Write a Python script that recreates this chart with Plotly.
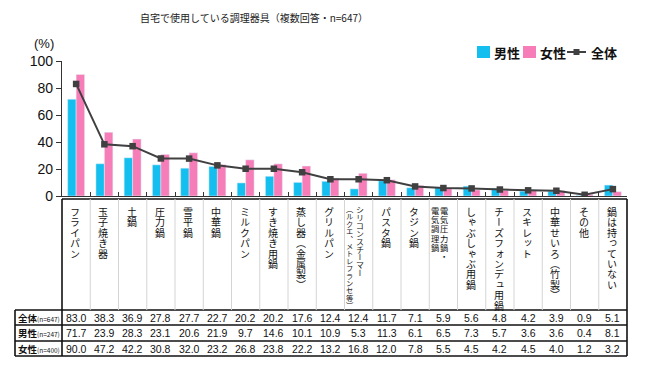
import plotly.graph_objects as go

# ---------------- data ----------------
categories = [
    "フライパン", "玉子焼き器", "土鍋", "圧力鍋", "雪平鍋", "中華鍋", "ミルクパン",
    "すき焼き用鍋", "蒸し器（金属製）", "グリルパン",
    "シリコンスチーマー（ルクエ、メトレフランセ等）", "パスタ鍋", "タジン鍋",
    "電気圧力鍋・電気調理鍋", "しゃぶしゃぶ用鍋", "チーズフォンデュ用鍋", "スキレット",
    "中華せいろ（竹製）", "その他", "鍋は持っていない",
]
# vertical label columns (first = right-most column)
label_columns = [
    ["フライパン"], ["玉子焼き器"], ["土鍋"], ["圧力鍋"], ["雪平鍋"], ["中華鍋"],
    ["ミルクパン"], ["すき焼き用鍋"], ["蒸し器（金属製）"], ["グリルパン"],
    ["シリコンスチーマー", "（ルクエ、メトレフランセ等）"], ["パスタ鍋"], ["タジン鍋"],
    ["電気圧力鍋・", "電気調理鍋"], ["しゃぶしゃぶ用鍋"], ["チーズフォンデュ用鍋"],
    ["スキレット"], ["中華せいろ（竹製）"], ["その他"], ["鍋は持っていない"],
]
total = [83.0, 38.3, 36.9, 27.8, 27.7, 22.7, 20.2, 20.2, 17.6, 12.4,
         12.4, 11.7, 7.1, 5.9, 5.6, 4.8, 4.2, 3.9, 0.9, 5.1]
male = [71.7, 23.9, 28.3, 23.1, 20.6, 21.9, 9.7, 14.6, 10.1, 10.9,
        5.3, 11.3, 6.1, 6.5, 7.3, 5.7, 3.6, 3.6, 0.4, 8.1]
female = [90.0, 47.2, 42.2, 30.8, 32.0, 23.2, 26.8, 23.8, 22.2, 13.2,
          16.8, 12.0, 7.8, 5.5, 4.5, 4.2, 4.5, 4.0, 1.2, 3.2]
series_names = ["男性", "女性", "全体"]
row_names = ["全体", "男性", "女性"]
row_ns = ["(n=647)", "(n=247)", "(n=400)"]
row_values = [total, male, female]
y_ticks = [0, 20, 40, 60, 80, 100]

title_text = "自宅で使用している調理器具（複数回答・n=647）"

# ---------------- layout geometry ----------------
W, H = 650, 375
OFF = 8                      # page body margin offset
PL, PT, PR, PB = 62, 61, 627, 196   # plot area in page pixels
PW, PH = PR - PL, PB - PT
L, T = PL - OFF, PT - OFF
R, B = W - L - PW, H - T - PH
JP = "Noto Sans CJK JP"
NUM = "Liberation Sans"

def py(p):  # page pixel y -> paper y
    return (PB - p) / PH

def px(p):  # page pixel x -> paper x
    return (p - PL) / PW

BLUE = "#14bff0"
PINK = "#f77db9"
DARK = "#404040"

fig = go.Figure()
fig.add_trace(go.Bar(x=categories, y=male, name=series_names[0], marker_color=BLUE))
fig.add_trace(go.Bar(x=categories, y=female, name=series_names[1], marker_color=PINK))
fig.add_trace(go.Scatter(x=categories, y=total, name=series_names[2], mode="lines+markers",
                         line=dict(color=DARK, width=2),
                         marker=dict(symbol="square", size=6.5, color=DARK)))

shapes = []
annotations = []

# table grid
TOP_CAT, R1, R2, R3, R4 = 199, 310, 325, 341, 356
X_LEFT, X_RIGHT = 15, 627
line_k = dict(color="#111", width=1.6)
for yy in (R1, R2, R3, R4):
    shapes.append(dict(type="line", xref="paper", yref="paper",
                       x0=px(X_LEFT), x1=px(X_RIGHT), y0=py(yy), y1=py(yy), line=line_k))
shapes.append(dict(type="line", xref="paper", yref="paper",
                   x0=0, x1=px(X_RIGHT), y0=py(TOP_CAT), y1=py(TOP_CAT), line=line_k))
shapes.append(dict(type="line", xref="paper", yref="paper",
                   x0=px(X_LEFT), x1=px(X_LEFT), y0=py(R1), y1=py(R4), line=line_k))
shapes.append(dict(type="line", xref="paper", yref="paper",
                   x0=0, x1=0, y0=py(TOP_CAT), y1=py(R4), line=line_k))
shapes.append(dict(type="line", xref="paper", yref="paper",
                   x0=px(X_RIGHT), x1=px(X_RIGHT), y0=py(TOP_CAT), y1=py(R4), line=line_k))
for i in range(1, len(categories)):
    shapes.append(dict(type="line", xref="x", yref="paper",
                       x0=i - 0.5, x1=i - 0.5, y0=py(TOP_CAT), y1=py(R1),
                       line=dict(color="#d4d4d4", width=1)))


def vtext(text, size):
    """one character per line, using the font's vertical glyph forms"""
    return "<br>".join(
        f"<span style=\"font-size:{size}px;font-feature-settings:'vert' 1\">{ch}</span>"
        for ch in text)


# vertical category labels (one text column per annotation)
for i, cols in enumerate(label_columns):
    n = len(cols)
    for c, text in enumerate(cols):
        if n == 1:
            xs, size, step = -1, 10, 10.4
        elif len(cols[1]) > 8:        # シリコンスチーマー
            xs = 1 if c == 0 else -9
            size, step = (8, 7.9) if c == 0 else (7.3, 7.4)
        else:                          # 電気圧力鍋・電気調理鍋
            xs = 1 if c == 0 else -8
            size, step = 8.3, 9.2
        annotations.append(dict(
            x=i, xref="x", y=py(203), yref="paper",
            text=vtext(text, size), showarrow=False, xshift=xs,
            borderpad=0,
            font=dict(family=JP, size=step / 1.3, color="#111"),
            xanchor="center", yanchor="top"))

# data rows
row_centers = [(R1 + R2) / 2, (R2 + R3) / 2, (R3 + R4) / 2]
for r, (nm, nn, vals) in enumerate(zip(row_names, row_ns, row_values)):
    annotations.append(dict(
        x=px((X_LEFT + PL) / 2), xref="paper", y=py(row_centers[r]), yref="paper",
        text=f"<b>{nm}</b><span style='font-size:6.5px'>{nn}</span>",
        showarrow=False, font=dict(family=JP, size=9.5, color="#111"),
        xanchor="center", yanchor="middle"))
    for i, v in enumerate(vals):
        annotations.append(dict(
            x=i, xref="x", y=py(row_centers[r]), yref="paper",
            text=f"{v:.1f}", showarrow=False,
            font=dict(family=NUM, size=10.5, color="#111"),
            xanchor="center", yanchor="middle"))

# (%) unit label and title
annotations.append(dict(x=px(44), xref="paper", y=py(44), yref="paper",
                        text="(%)", showarrow=False,
                        font=dict(family=NUM, size=13, color="#111"),
                        xanchor="center", yanchor="middle"))
annotations.append(dict(x=px(254), xref="paper", y=py(17), yref="paper",
                        text=title_text, showarrow=False,
                        font=dict(family=JP, size=10, color="#222"),
                        xanchor="center", yanchor="middle"))

# legend (drawn as a key in the top right)
LEG_Y = 52
leg_font = dict(family=JP, size=13, color="#111", weight="bold")
for x0, col, nm in ((477, BLUE, series_names[0]), (523, PINK, series_names[1])):
    shapes.append(dict(type="rect", xref="paper", yref="paper",
                       x0=px(x0), x1=px(x0 + 13), y0=py(LEG_Y - 6), y1=py(LEG_Y + 6),
                       fillcolor=col, line=dict(width=0)))
    annotations.append(dict(x=px(x0 + 15), xref="paper", y=py(LEG_Y), yref="paper",
                            text=nm, showarrow=False, font=leg_font,
                            xanchor="left", yanchor="middle"))
shapes.append(dict(type="line", xref="paper", yref="paper",
                   x0=px(567), x1=px(586), y0=py(LEG_Y), y1=py(LEG_Y),
                   line=dict(color=DARK, width=2)))
shapes.append(dict(type="rect", xref="paper", yref="paper",
                   x0=px(573.5), x1=px(579.5), y0=py(LEG_Y - 3), y1=py(LEG_Y + 3),
                   fillcolor=DARK, line=dict(width=0)))
annotations.append(dict(x=px(589), xref="paper", y=py(LEG_Y), yref="paper",
                        text=series_names[2], showarrow=False, font=leg_font,
                        xanchor="left", yanchor="middle"))

fig.update_layout(
    width=W, height=H,
    margin=dict(l=L, r=R, t=T, b=B, autoexpand=False),
    paper_bgcolor="white", plot_bgcolor="white",
    barmode="group", bargap=0.4, bargroupgap=0,
    showlegend=False,
    shapes=shapes,
    annotations=annotations,
)
fig.update_xaxes(showticklabels=False, showline=True, linecolor="#333", linewidth=1.2,
                 ticks="inside", ticklen=4, tickcolor="#333", tickson="boundaries",
                 showgrid=False, zeroline=False, range=[-0.5, len(categories) - 0.5])
fig.update_yaxes(range=[0, 100], tickvals=y_ticks, showline=True, linecolor="#333",
                 linewidth=1.2, ticks="outside", ticklen=5, tickcolor="#333",
                 showgrid=False, zeroline=False,
                 tickfont=dict(family=NUM, size=14, color="#111"))

fig.write_html("out.html")
